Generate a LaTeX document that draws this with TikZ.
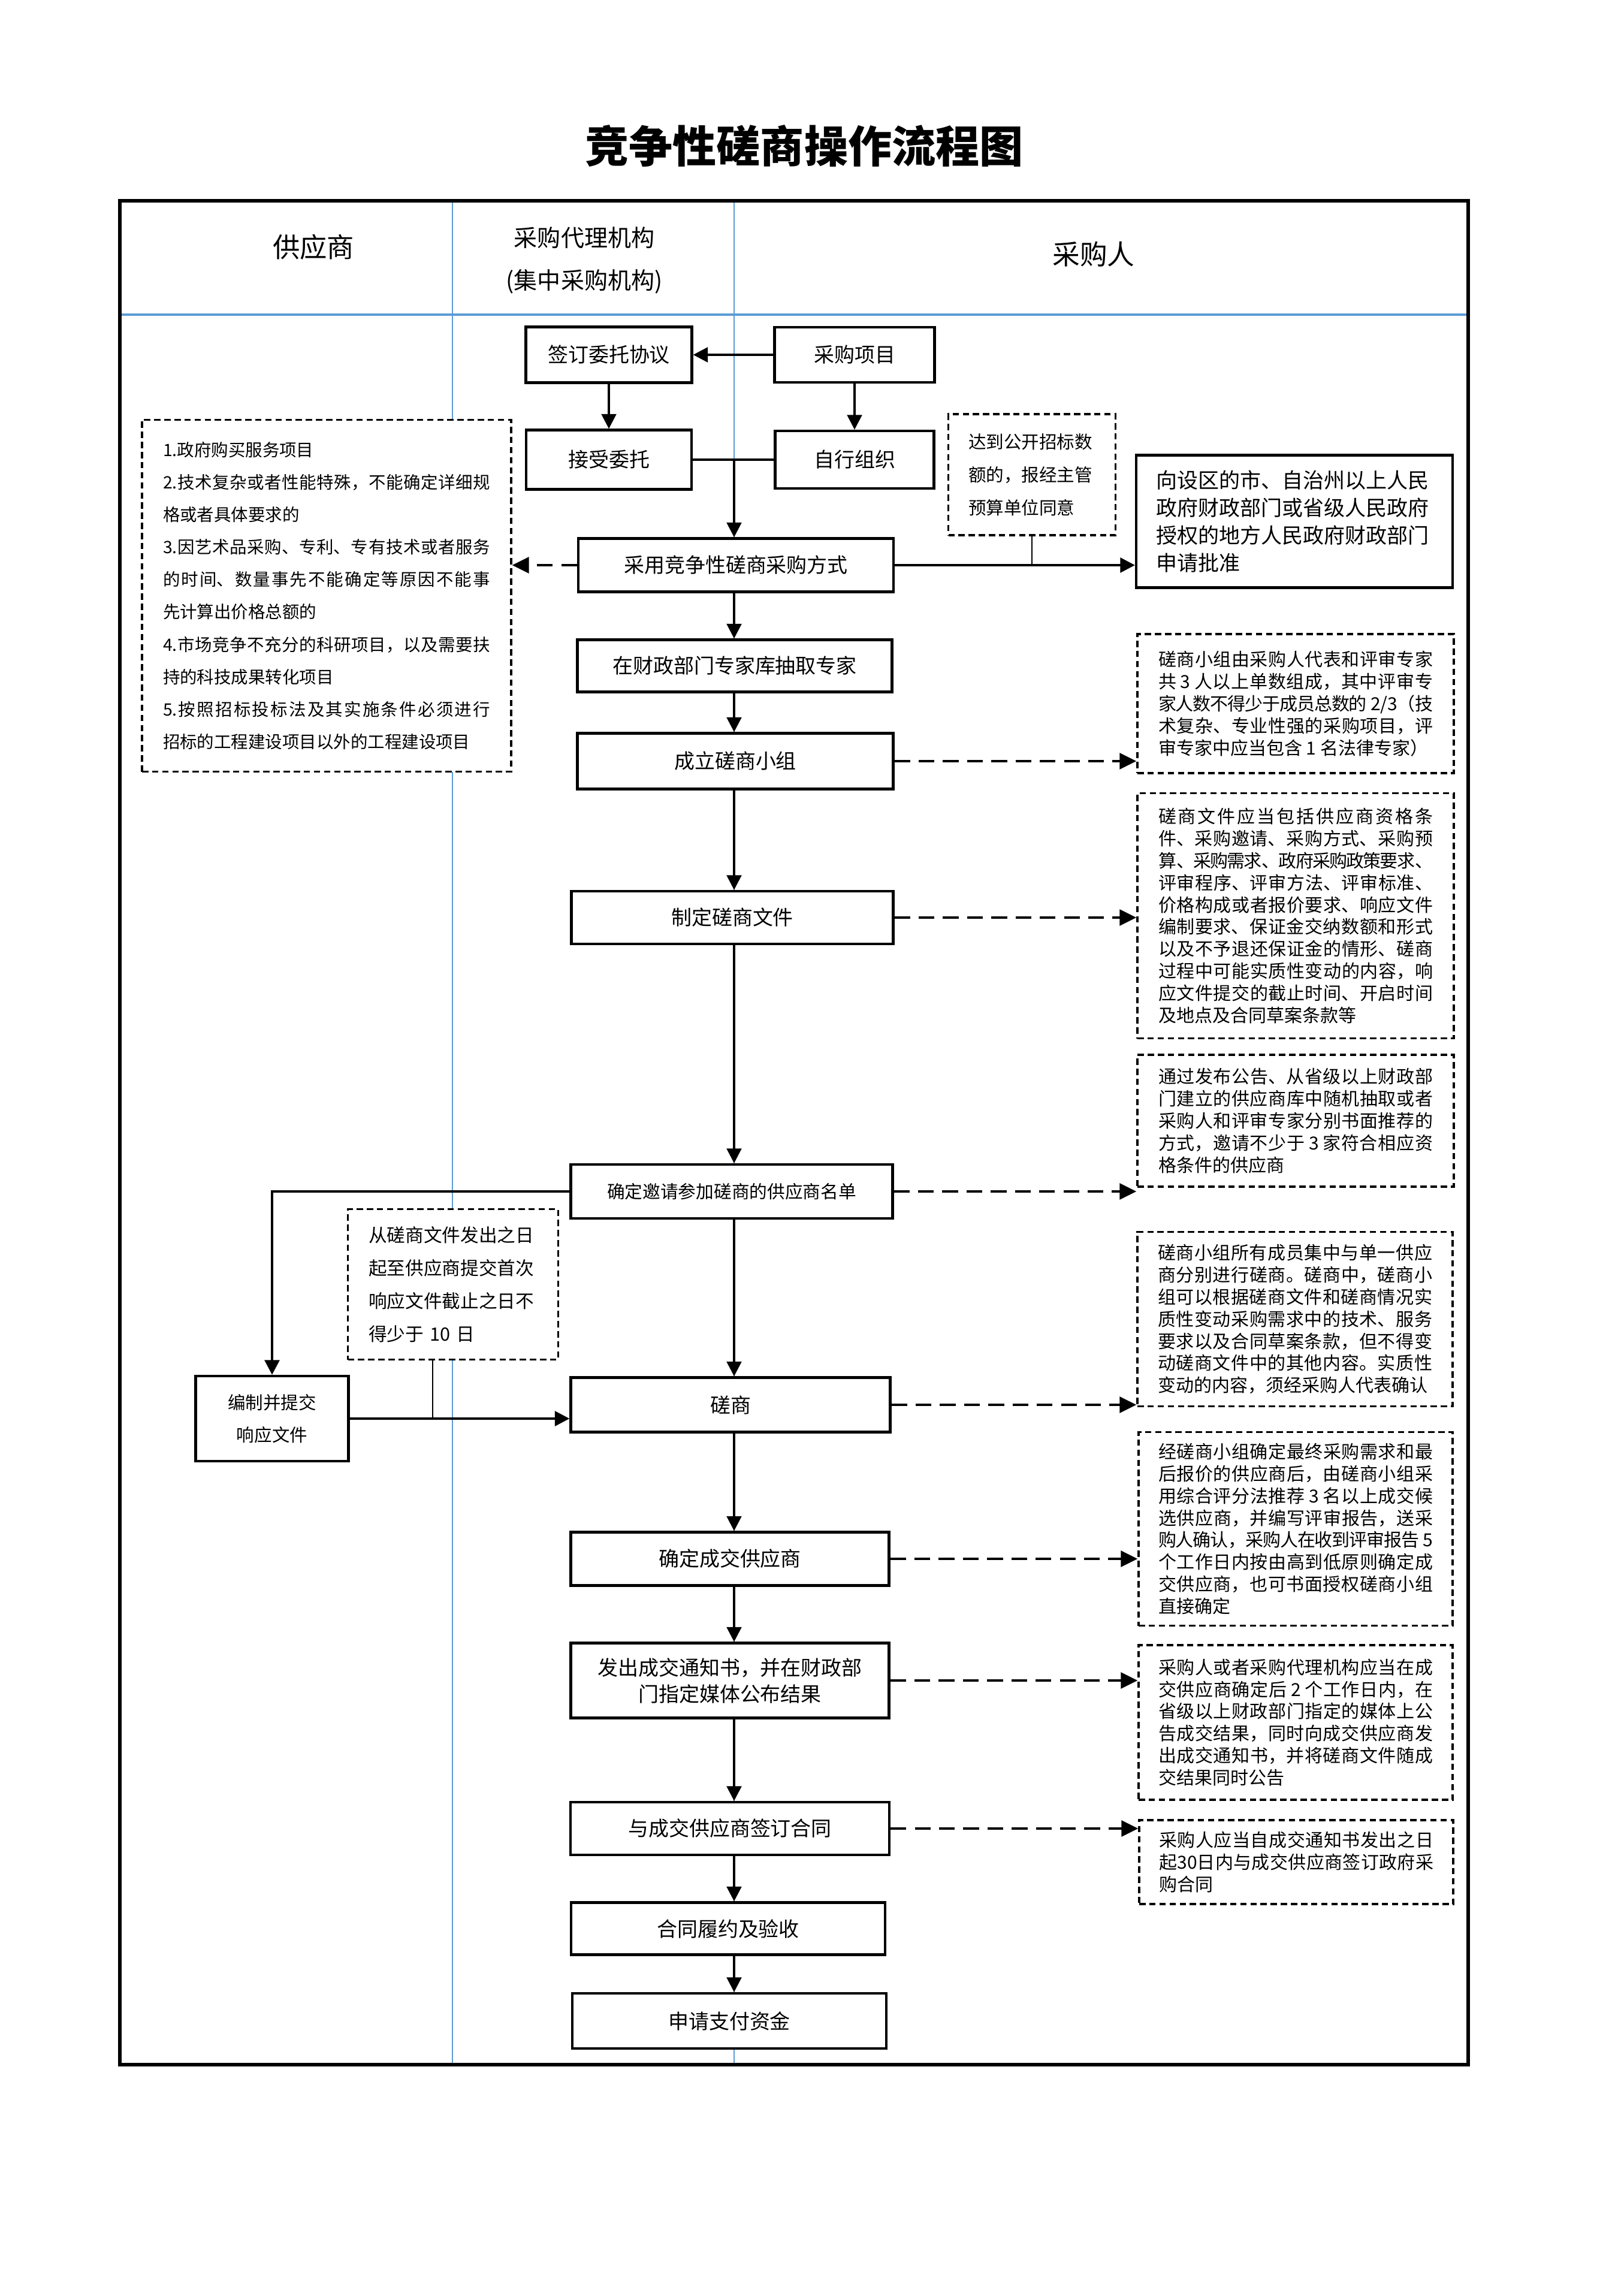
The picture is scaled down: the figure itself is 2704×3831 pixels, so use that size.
\documentclass[tikz,border=0pt]{standalone}
\usepackage{fontspec}
\setmainfont{Noto Sans CJK SC}
\usetikzlibrary{arrows.meta}
\XeTeXlinebreaklocale "zh"
\XeTeXlinebreakskip=0pt plus 1em minus 0.12em
\newcommand\fsz[2]{\fontsize{#1}{#2}\selectfont\tolerance=9999\relax}
\definecolor{laneblue}{RGB}{91,155,213}
\begin{document}
\begin{tikzpicture}[x=0.1mm,y=-0.1mm,
  solidbox/.style={draw,line width=1.2pt,fill=white,inner sep=0pt,align=center,font=\fsz{9.67pt}{12.5pt}},
  dashbox/.style={draw,line width=0.9pt,dash pattern=on 3pt off 1.8pt,fill=white,inner sep=0pt},
  rnote/.style={dashbox,text width=45.8mm,align=justify,font=\fsz{8.54pt}{10.5pt}},
  arr/.style={line width=1.2pt,-{Triangle[length=7pt,width=7pt]}},
  arrv/.style={line width=1pt,-{Triangle[length=7pt,width=7pt]}},
  ln/.style={line width=1.2pt},
  tie/.style={line width=0.7pt},
  darr/.style={line width=1.4pt,dash pattern=on 7.5pt off 4pt,-{Triangle[length=8pt,width=7.5pt]}},
  lane/.style={draw=laneblue,line width=0.6pt}
]
\useasboundingbox[fill=white] (0,0) rectangle (2704,3831);

% title and headers
\node[font=\bfseries\fsz{20.8pt}{25pt}] (title) at (1342,244) {竞争性磋商操作流程图};
\draw[lane] (755,335) -- (755,3445);
\draw[lane] (1225,335) -- (1225,3445);
\draw[draw=laneblue,line width=1.1pt] (202,525) -- (2449,525);
\draw[line width=1.8pt] (200,335) rectangle (2450,3445);
\node[font=\fsz{12.9pt}{15pt}] (h1) at (523,412) {供应商};
\node[font=\fsz{11.1pt}{14pt}] (h2a) at (975,397) {采购代理机构};
\node[font=\fsz{11.1pt}{14pt}] (h2b) at (975,470) {(集中采购机构)};
\node[font=\fsz{13pt}{15pt}] (h3) at (1825,424) {采购人};

% main boxes
\node[solidbox,minimum width=27.7mm,minimum height=9.3mm] (qianding) at (1016,592) {签订委托协议};
\node[solidbox,minimum width=26.7mm,minimum height=9.2mm] (xiangmu) at (1426,592) {采购项目};
\node[solidbox,minimum width=27.6mm,minimum height=9.9mm] (jieshou) at (1016,767) {接受委托};
\node[solidbox,minimum width=26.5mm,minimum height=9.6mm] (zixing) at (1426,767) {自行组织};
\node[solidbox,minimum width=52.6mm,minimum height=8.9mm] (caiyong) at (1228,943) {采用竞争性磋商采购方式};
\node[dashbox,minimum width=27.9mm,minimum height=20.2mm,text width=21.2mm,align=left,font=\fsz{8.42pt}{15.6pt}] (daodao) at (1722,792) {达到公开招标数\\额的，报经主管\\预算单位同意};
\node[solidbox,minimum width=52.8mm,minimum height=22.1mm,text width=46.2mm,align=left,font=\fsz{9.96pt}{13.1pt}] (shenqing) at (2160,870) {向设区的市、自治州以上人民\\政府财政部门或省级人民政府\\授权的地方人民政府财政部门\\申请批准};
\node[dashbox,minimum width=61.6mm,minimum height=58.7mm,text width=54.6mm,align=justify,font=\fsz{8.1pt}{15.4pt}] (leftbox) at (545,994) {1.政府购买服务项目\\
2.技术复杂或者性能特殊，不能确定详细规\linebreak
格或者具体要求的\\
3.因艺术品采购、专利、专有技术或者服务\linebreak
的时间、数量事先不能确定等原因不能事\linebreak
先计算出价格总额的\\
4.市场竞争不充分的科研项目，以及需要扶\linebreak
持的科技成果转化项目\\
5.按照招标投标法及其实施条件必须进行\linebreak
招标的工程建设项目以外的工程建设项目};

\node[solidbox,minimum width=52.5mm,minimum height=8.7mm] (zhuanjia) at (1226,1111) {在财政部门专家库抽取专家};
\node[solidbox,minimum width=52.7mm,minimum height=9.3mm] (chengli) at (1227,1270) {成立磋商小组};
\node[solidbox,minimum width=53.7mm,minimum height=8.8mm] (zhiding) at (1222,1531) {制定磋商文件};
\node[solidbox,minimum width=53.7mm,minimum height=9.0mm,font=\fsz{8.45pt}{11pt}] (queding) at (1221,1988) {确定邀请参加磋商的供应商名单};
\node[solidbox,minimum width=53.3mm,minimum height=9.1mm] (cuoshang) at (1219,2344) {磋商};
\node[solidbox,minimum width=53.1mm,minimum height=8.9mm] (chengjiao) at (1218,2601) {确定成交供应商};
\node[solidbox,minimum width=53.1mm,minimum height=12.5mm] (fachu) at (1218,2804) {发出成交通知书，并在财政部\\门指定媒体公布结果};
\node[solidbox,minimum width=53.2mm,minimum height=8.8mm] (hetong) at (1218,3051) {与成交供应商签订合同};
\node[solidbox,minimum width=52.4mm,minimum height=8.7mm] (lvyue) at (1215,3218) {合同履约及验收};
\node[solidbox,minimum width=52.4mm,minimum height=9.2mm] (zijin) at (1217,3372) {申请支付资金};

\node[solidbox,minimum width=25.5mm,minimum height=14.2mm,font=\fsz{8.4pt}{15.4pt}] (bianzhi) at (454,2367) {编制并提交\\响应文件};
\node[dashbox,minimum width=35.1mm,minimum height=25.1mm,text width=28.2mm,align=left,font=\fsz{8.73pt}{15.6pt}] (congcs) at (756,2143) {从磋商文件发出之日\\起至供应商提交首次\\响应文件截止之日不\\得少于 10 日};

% right notes
\node[rnote,minimum width=52.8mm,minimum height=23.2mm] (r1) at (2162,1174) {磋商小组由采购人代表和评审专家\linebreak
共 3 人以上单数组成，其中评审专\linebreak
家人数不得少于成员总数的 2/3（技\linebreak
术复杂、专业性强的采购项目，评\linebreak
审专家中应当包含 1 名法律专家）};
\node[rnote,minimum width=52.8mm,minimum height=40.9mm] (r2) at (2162,1528) {磋商文件应当包括供应商资格条\linebreak
件、采购邀请、采购方式、采购预\linebreak
算、采购需求、政府采购政策要求、\linebreak
评审程序、评审方法、评审标准、\linebreak
价格构成或者报价要求、响应文件\linebreak
编制要求、保证金交纳数额和形式\linebreak
以及不予退还保证金的情形、磋商\linebreak
过程中可能实质性变动的内容，响\linebreak
应文件提交的截止时间、开启时间\linebreak
及地点及合同草案条款等};
\node[rnote,minimum width=52.8mm,minimum height=22.0mm] (r3) at (2162,1870) {通过发布公告、从省级以上财政部\linebreak
门建立的供应商库中随机抽取或者\linebreak
采购人和评审专家分别书面推荐的\linebreak
方式，邀请不少于 3 家符合相应资\linebreak
格条件的供应商};
\node[rnote,minimum width=52.6mm,minimum height=29.1mm] (r4) at (2161,2201) {磋商小组所有成员集中与单一供应\linebreak
商分别进行磋商。磋商中，磋商小\linebreak
组可以根据磋商文件和磋商情况实\linebreak
质性变动采购需求中的技术、服务\linebreak
要求以及合同草案条款，但不得变\linebreak
动磋商文件中的其他内容。实质性\linebreak
变动的内容，须经采购人代表确认};
\node[rnote,minimum width=52.4mm,minimum height=32.3mm] (r5) at (2162,2551) {经磋商小组确定最终采购需求和最\linebreak
后报价的供应商后，由磋商小组采\linebreak
用综合评分法推荐 3 名以上成交候\linebreak
选供应商，并编写评审报告，送采\linebreak
购人确认，采购人在收到评审报告 5\linebreak
个工作日内按由高到低原则确定成\linebreak
交供应商，也可书面授权磋商小组\linebreak
直接确定};
\node[rnote,minimum width=52.4mm,minimum height=25.8mm] (r6) at (2162,2874) {采购人或者采购代理机构应当在成\linebreak
交供应商确定后 2 个工作日内，在\linebreak
省级以上财政部门指定的媒体上公\linebreak
告成交结果，同时向成交供应商发\linebreak
出成交通知书，并将磋商文件随成\linebreak
交结果同时公告};
\node[rnote,minimum width=52.4mm,minimum height=14.0mm] (r7) at (2163,3107) {采购人应当自成交通知书发出之日\linebreak
起30日内与成交供应商签订政府采\linebreak
购合同};

% connectors
\coordinate (cx) at (1225,0);
\draw[arr] (xiangmu.west) -- (qianding.east);
\draw[arrv] (qianding.south) -- (jieshou.north);
\draw[arrv] (xiangmu.south) -- (zixing.north);
\draw[ln] (jieshou.east) -- (zixing.west);
\coordinate (j1) at (cx |- jieshou.east);
\draw[arrv] (j1) -- (cx |- caiyong.north);
\draw[darr] (caiyong.west) -- (caiyong.west -| leftbox.east);
\draw[arr] (caiyong.east) -- (caiyong.east -| shenqing.west);
\draw[tie] (daodao.south) -- (daodao.south |- caiyong.east);

\draw[arrv] (cx |- caiyong.south) -- (cx |- zhuanjia.north);
\draw[arrv] (cx |- zhuanjia.south) -- (cx |- chengli.north);
\draw[arrv] (cx |- chengli.south) -- (cx |- zhiding.north);
\draw[arrv] (cx |- zhiding.south) -- (cx |- queding.north);
\draw[arrv] (cx |- queding.south) -- (cx |- cuoshang.north);
\draw[arrv] (cx |- cuoshang.south) -- (cx |- chengjiao.north);
\draw[arrv] (cx |- chengjiao.south) -- (cx |- fachu.north);
\draw[arrv] (cx |- fachu.south) -- (cx |- hetong.north);
\draw[arrv] (cx |- hetong.south) -- (cx |- lvyue.north);
\draw[arrv] (cx |- lvyue.south) -- (cx |- zijin.north);

\draw[darr] (chengli.east) -- (chengli.east -| r1.west);
\draw[darr] (zhiding.east) -- (zhiding.east -| r2.west);
\draw[darr] (queding.east) -- (queding.east -| r3.west);
\draw[darr] (cuoshang.east) -- (cuoshang.east -| r4.west);
\draw[darr] (chengjiao.east) -- (chengjiao.east -| r5.west);
\draw[darr] (fachu.east) -- (fachu.east -| r6.west);
\draw[darr] (hetong.east) -- (hetong.east -| r7.west);

\draw[arr] (queding.west) -| (bianzhi.north);
\draw[arr] (bianzhi.east) -- (bianzhi.east -| cuoshang.west);
\coordinate (ct) at ([xshift=-3.4mm]congcs.south);
\draw[tie] (ct) -- (ct |- bianzhi.east);
\end{tikzpicture}
\end{document}
